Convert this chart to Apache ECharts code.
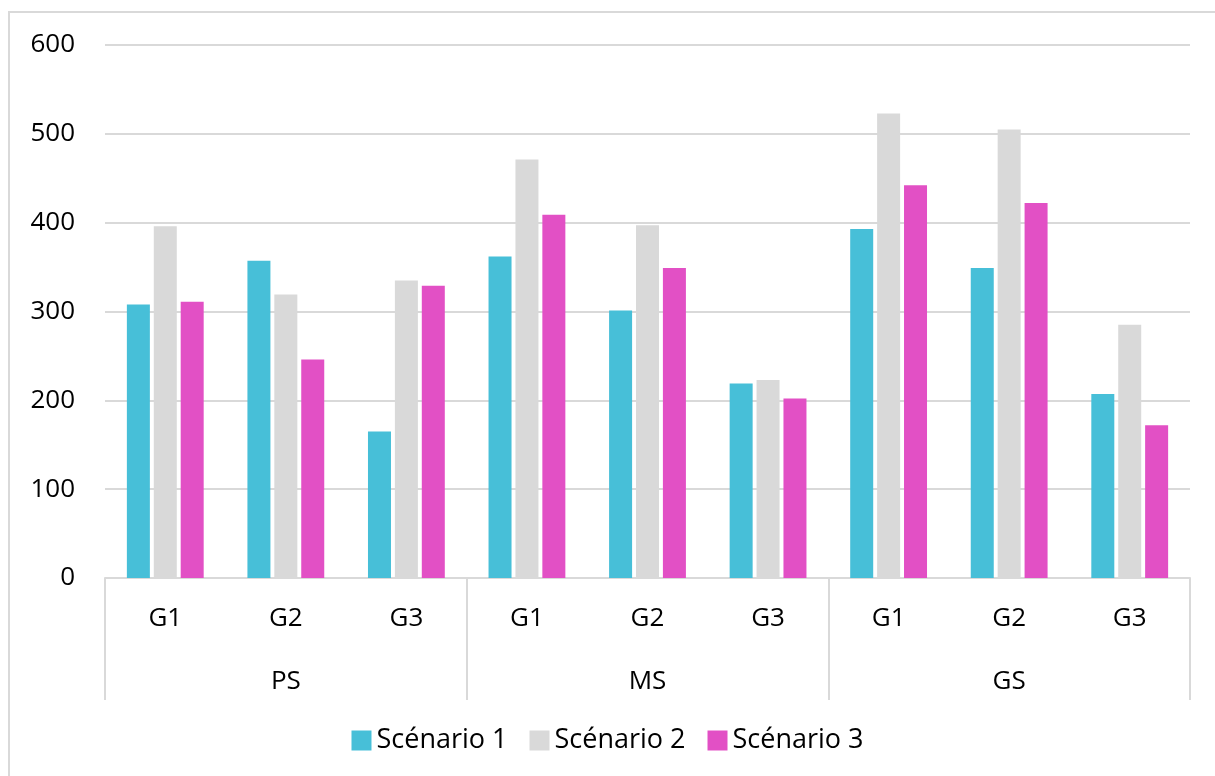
<!DOCTYPE html>
<html>
<head>
<meta charset="utf-8">
<script src="https://cdn.jsdelivr.net/npm/echarts@6/dist/echarts.min.js"></script>
<style>
  html, body { margin: 0; padding: 0; background: #fff; }
  #chart { width: 1215px; height: 776px; }
</style>
</head>
<body>
<div id="chart"></div>
<script>
  // nested categories: groups inside each size class
  const groups = ['G1', 'G2', 'G3', 'G1', 'G2', 'G3', 'G1', 'G2', 'G3']
  const classes = ['PS', 'MS', 'GS']
  const yTicks = [0, 100, 200, 300, 400, 500, 600]

  const scenario1 = [308, 357, 165, 362, 301, 219, 393, 349, 207]
  const scenario2 = [396, 319, 335, 471, 397, 223, 523, 505, 285]
  const scenario3 = [311, 246, 329, 409, 349, 202, 442, 422, 172]

  const font = '"Open Sans", "Liberation Sans", sans-serif'
  const colors = ['#47BFD8', '#D9D9D9', '#E250C5']

  const chart = echarts.init(document.getElementById('chart'))

  const bar = (name, data, color) => ({
    name: name,
    type: 'bar',
    data: data,
    barWidth: 23,
    barGap: '17%',
    itemStyle: { color: color },
  })

  chart.setOption({
    animation: false,
    textStyle: { fontFamily: font },
    grid: { left: 105, right: 25, top: 45, bottom: 198 },
    legend: {
      bottom: 17,
      left: 'center',
      itemWidth: 20,
      itemHeight: 20,
      itemGap: 22,
      icon: 'rect',
      textStyle: { fontSize: 27, color: '#000', fontFamily: font },
      data: ['Scénario 1', 'Scénario 2', 'Scénario 3'],
    },
    xAxis: [
      {
        type: 'category',
        data: groups,
        axisLine: { lineStyle: { color: '#D9D9D9', width: 2 } },
        axisTick: { show: false },
        axisLabel: { color: '#000', fontSize: 26, margin: 28, fontFamily: font },
      },
      {
        type: 'category',
        data: classes,
        position: 'bottom',
        axisLine: { show: false },
        axisTick: { show: true, length: 122, lineStyle: { color: '#D9D9D9', width: 2 } },
        axisLabel: { color: '#000', fontSize: 26, margin: 91, fontFamily: font },
      },
    ],
    yAxis: {
      type: 'value',
      min: yTicks[0],
      max: yTicks[yTicks.length - 1],
      interval: 100,
      axisLine: { show: false },
      axisTick: { show: false },
      axisLabel: { color: '#000', fontSize: 26, margin: 30, fontFamily: font },
      splitLine: { lineStyle: { color: '#D9D9D9', width: 2 } },
    },
    graphic: [
      {
        type: 'polyline',
        shape: { points: [[9, 776], [9, 12], [1215, 12]] },
        style: { stroke: '#D9D9D9', lineWidth: 2, fill: null },
      },
    ],
    series: [
      bar('Scénario 1', scenario1, colors[0]),
      bar('Scénario 2', scenario2, colors[1]),
      bar('Scénario 3', scenario3, colors[2]),
    ],
  })
</script>
</body>
</html>
